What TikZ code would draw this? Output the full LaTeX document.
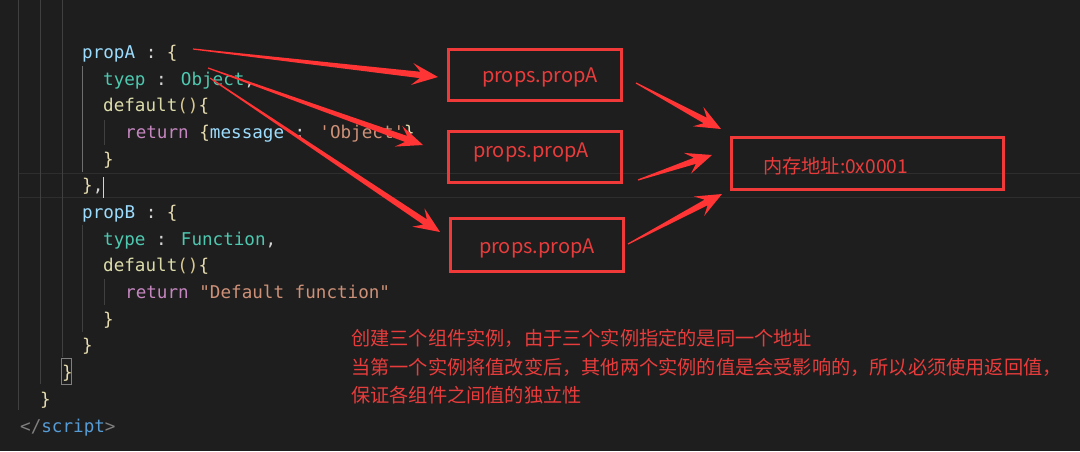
\documentclass[tikz,border=0pt]{standalone}
\usepackage{fontspec}
\usetikzlibrary{calc}
\newfontfamily\codefont{DejaVu Sans Mono}[Ligatures=TeXOff]
\newfontfamily\cjk{Noto Sans CJK SC}
\definecolor{bg}{HTML}{1E1E1E}
\definecolor{guide}{HTML}{404040}
\definecolor{guideact}{HTML}{6E6E6E}
\definecolor{hl}{HTML}{2E2E2E}
\definecolor{cwhite}{HTML}{D4D4D4}
\definecolor{cprop}{HTML}{9CDCFE}
\definecolor{cteal}{HTML}{4EC9B0}
\definecolor{cfunc}{HTML}{DCDCAA}
\definecolor{ckey}{HTML}{C586C0}
\definecolor{cstr}{HTML}{CE9178}
\definecolor{cbrace}{HTML}{E6DCB0}
\definecolor{cparen}{HTML}{D8C890}
\definecolor{cgray}{HTML}{808080}
\definecolor{ctag}{HTML}{569CD6}
\definecolor{boxred}{HTML}{F03A3A}
\definecolor{textred}{HTML}{E83C3C}
\definecolor{arrowred}{HTML}{FF3434}
\newcommand\fatarrow[2]{%
 \fill[arrowred] let \p1=(#1), \p2=(#2),
   \n1={atan2(\y2-\y1,\x2-\x1)}, \n2={veclen(\x2-\x1,\y2-\y1)} in
   ($(\p1)+(\n1+90:0.6pt)$)
   -- ($(\p1)+(\n1:\n2-18pt)+(\n1+90:3.2pt)$)
   -- ($(\p1)+(\n1:\n2-26pt)+(\n1+90:11pt)$)
   -- (\p2)
   -- ($(\p1)+(\n1:\n2-26pt)+(\n1-90:11pt)$)
   -- ($(\p1)+(\n1:\n2-18pt)+(\n1-90:3.2pt)$)
   -- ($(\p1)+(\n1-90:0.6pt)$) -- cycle;}
\tikzset{
  code/.style={anchor=base west, inner sep=0pt, text=cwhite,
    font=\codefont\fontsize{17.6}{20}\selectfont},
  redbox/.style={draw=boxred, line width=3pt, inner sep=0pt},
  redlabel/.style={text=textred, inner sep=0pt,
    font=\cjk\fontsize{20}{24}\selectfont},
  note/.style={anchor=base west, text=textred, inner sep=0pt,
    font=\cjk\fontsize{19.2}{22}\selectfont},
  guideline/.style={draw=guide, line width=1pt}
}
\begin{document}
\begin{tikzpicture}[x=1pt,y=-1pt]
\fill[bg] (0,0) rectangle (1080,451);
\useasboundingbox (0,0) rectangle (1080,451);
% current line highlight
\draw[hl, line width=1.5pt] (18,173.5) -- (1080,173.5);
\draw[hl, line width=1.5pt] (18,197.5) -- (1080,197.5);
% indent guides
\draw[guideline] (18.5,0) -- (18.5,410);
\draw[guideline] (40.5,0) -- (40.5,384);
\draw[guideline] (62.5,0) -- (62.5,357);
\draw[draw=guideact, line width=1pt] (82.5,66) -- (82.5,172);
\draw[guideline] (104.5,120) -- (104.5,145);
\draw[guideline] (82.5,225) -- (82.5,332);
\draw[guideline] (104.5,279) -- (104.5,305);
% code lines
\node[code] (c0) at (82,58.5) {\textcolor{cprop}{propA} : \textcolor{cbrace}{\{}};
\node[code] (c1) at (103,85.2) {\textcolor{cteal}{tyep} : \textcolor{cteal}{Object},};
\node[code] (c2) at (103,111.9) {\textcolor{cfunc}{default}\textcolor{cparen}{()}\textcolor{cbrace}{\{}};
\node[code] (c3) at (125,138.5) {\textcolor{ckey}{return} \textcolor{cbrace}{\{}\textcolor{cprop}{message} : \textcolor{cstr}{'Object'}\textcolor{cbrace}{\}}};
\node[code] (c4) at (103,165.2) {\textcolor{cbrace}{\}}};
\node[code] (c5) at (82,191.9) {\textcolor{cbrace}{\}},};
\node[code] (c6) at (82,218.6) {\textcolor{cprop}{propB} : \textcolor{cbrace}{\{}};
\node[code] (c7) at (103,245.2) {\textcolor{cteal}{type} : \textcolor{cteal}{Function},};
\node[code] (c8) at (103,271.9) {\textcolor{cfunc}{default}\textcolor{cparen}{()}\textcolor{cbrace}{\{}};
\node[code] (c9) at (125,298.6) {\textcolor{ckey}{return} \textcolor{cstr}{"Default function"}};
\node[code] (c10) at (103,325.3) {\textcolor{cbrace}{\}}};
\node[code] (c11) at (82,351.9) {\textcolor{cbrace}{\}}};
\node[code] (c12) at (62,378.6) {\textcolor{cbrace}{\}}};
\node[code] (c13) at (40,405.3) {\textcolor{cbrace}{\}}};
\node[code] (c14) at (20,432) {\textcolor{cgray}{</}\textcolor{ctag}{script}\textcolor{cgray}{>}};
% bracket match box and cursor
\draw[cgray, line width=1pt] (61.5,358.5) rectangle (71.5,384.5);
\draw[cwhite, line width=1.5pt] (103.5,177) -- (103.5,198);
% boxes
\node[redbox, minimum width=173pt, minimum height=51pt] (b1) at (535,75) {};
\node[redbox, minimum width=173pt, minimum height=51pt] (b2) at (535,157) {};
\node[redbox, minimum width=173pt, minimum height=53pt] (b3) at (537,245) {};
\node[redbox, minimum width=272pt, minimum height=52pt] (mem) at (867.5,163.5) {};
\node[redlabel] (l1) at (540,77) {props.propA};
\node[redlabel] (l2) at (531,152) {props.propA};
\node[redlabel] (l3) at (537,248) {props.propA};
\node[redlabel, anchor=west, font=\cjk\fontsize{19.2}{22}\selectfont] (memtext) at (763,166) {内存地址:0x0001};
% arrow end points
\coordinate (a1s) at (193,49);  \coordinate (a1e) at (438,77);
\coordinate (a2s) at (208,68);  \coordinate (a2e) at (423,145);
\coordinate (a3s) at (210,78);  \coordinate (a3e) at (440,232);
\coordinate (b1s) at (636,83);  \coordinate (b1e) at (721,129);
\coordinate (b2s) at (638,180); \coordinate (b2e) at (712,155);
\coordinate (b3s) at (628,244); \coordinate (b3e) at (722,194);
\fatarrow{a1s}{a1e}
\fatarrow{a2s}{a2e}
\fatarrow{a3s}{a3e}
\fatarrow{b1s}{b1e}
\fatarrow{b2s}{b2e}
\fatarrow{b3s}{b3e}
% note
\node[note] (t1) at (351,345.3) {创建三个组件实例，由于三个实例指定的是同一个地址};
\node[note] (t2) at (351,374.3) {当第一个实例将值改变后，其他两个实例的值是会受影响的，所以必须使用返回值，};
\node[note] (t3) at (351,402.3) {保证各组件之间值的独立性};
\end{tikzpicture}
\end{document}
